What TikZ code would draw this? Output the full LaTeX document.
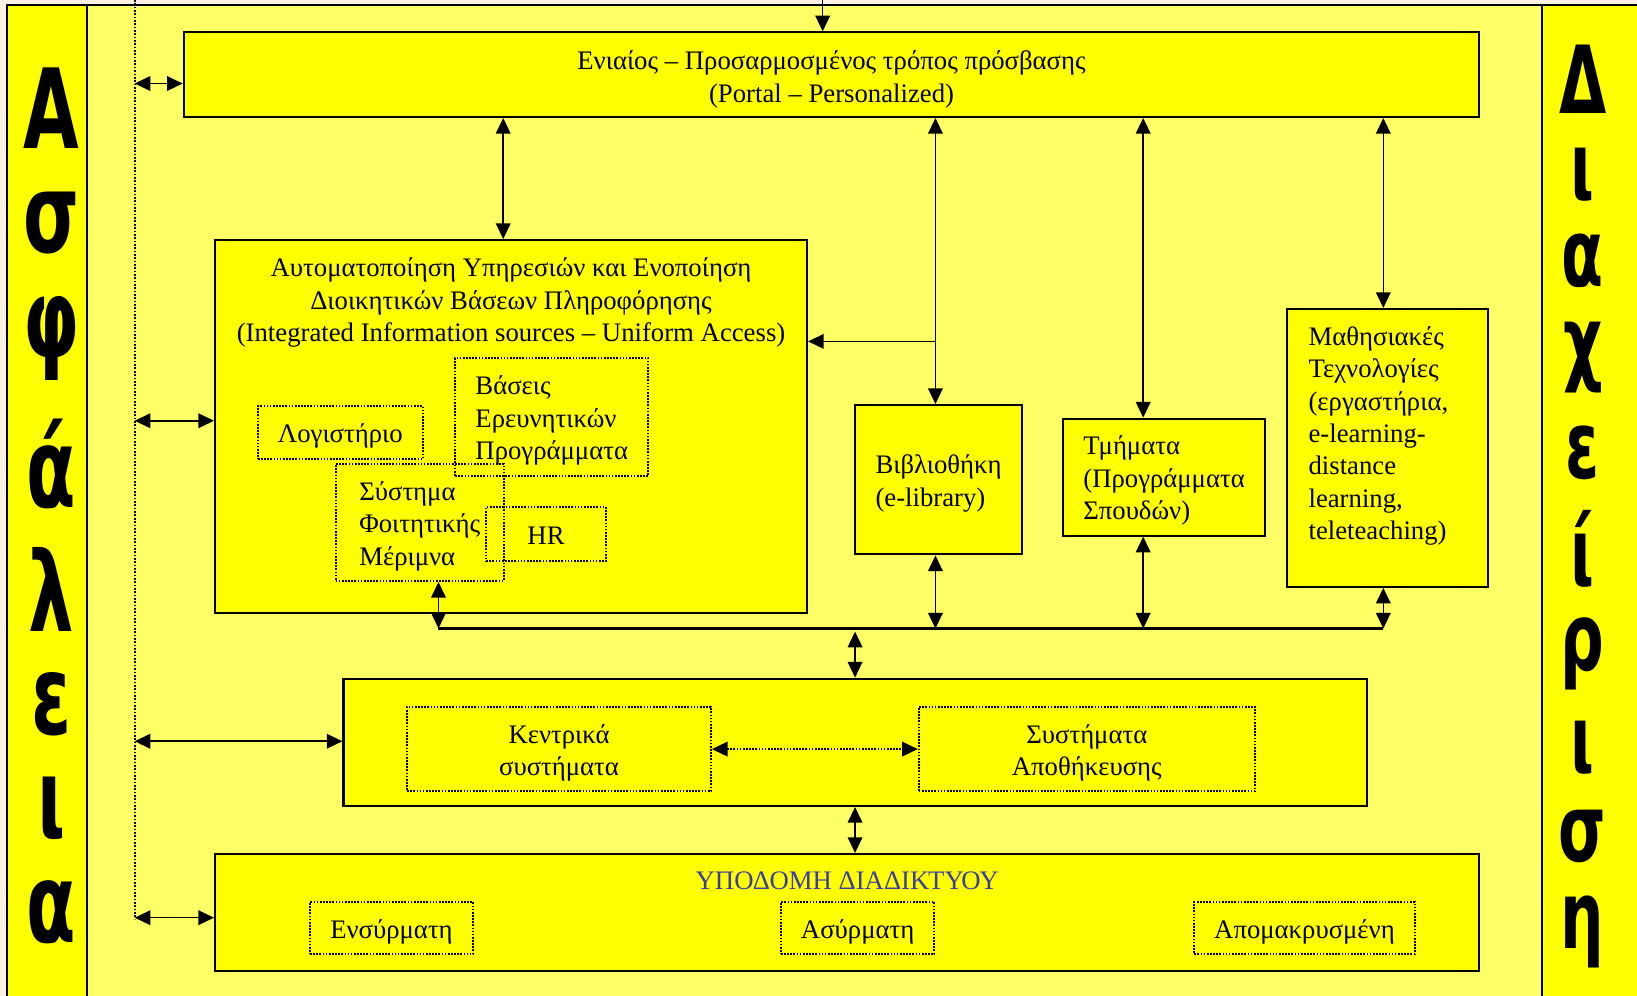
\documentclass[tikz,border=0pt]{standalone}
\usepackage{fontspec,graphicx}
\setmainfont{Liberation Serif}
\newfontfamily\bandfont{DejaVu Sans}
\usetikzlibrary{arrows.meta,positioning}

\definecolor{pagebeige}{RGB}{250,240,228}
\definecolor{paleyellow}{RGB}{255,255,102}
\definecolor{boxyellow}{RGB}{255,255,0}
\definecolor{titleblue}{RGB}{60,60,165}

\begin{document}
\begin{tikzpicture}[x=0.5pt,y=-0.5pt]
	% styles for the boxes, the dotted sub-systems and the links
	\tikzset{box/.style={draw,line width=1pt,fill=boxyellow,inner sep=0pt},
		dotbox/.style={draw,line width=0.9pt,dash pattern=on 0.8pt off 0.7pt,inner sep=0pt},
		% text sits a little low in its box, as in a word processor
		txt/.style={inner sep=0pt,yshift=-1.75pt,align=center,font=\fontsize{12.8}{15.5}\selectfont},
		link/.style={<->,line width=0.75pt},
		>={Triangle[length=7.5pt,width=7pt]},
		bandletter/.style={inner sep=0pt,font=\bandfont\bfseries\fontsize{53}{53}\selectfont},
		smallband/.style={bandletter,font=\bandfont\bfseries\fontsize{45}{45}\selectfont},
	}
	\useasboundingbox (0,0) rectangle (1568,954);
	% page, frame and the two side bands
	\fill[pagebeige] (0,0) rectangle (1568,954);
	\fill[paleyellow] (6.7,4.8) rectangle (1568,954);
	\fill[boxyellow] (6.7,4.8) rectangle (83,954);
	\fill[boxyellow] (1477,4.8) rectangle (1568,954);
	\draw[line width=1pt] (6.7,954) -- (6.7,4.8) -- (1568,4.8);
	\draw[line width=1pt] (83,4.8) -- (83,954);
	\draw[line width=1pt] (1477,4.8) -- (1477,954);
	\foreach \ch/\yy [count=\i] in {Α/104,σ/214,φ/324.5,ά/444.5,λ/564.5,ε/674.5,ι/774,α/874}
		\node[bandletter] (asf\i) at (49,\yy) {\scalebox{0.65}[1]{\ch}};
	\foreach \ch/\yy [count=\i] in {Δ/75.5,ι/167.5,α/249.5,χ/342.5,ε/433.5,ί/525.5,ρ/626,ι/716.5,σ/801,η/892.5}
		\node[smallband] (diax\i) at (1516,\yy) {\scalebox{0.65}[1]{\ch}};

	% the dotted security line on the left
	\coordinate (dtop) at (129,0);
	\coordinate (dbot) at (129,880);
	\draw[line width=0.8pt,dash pattern=on 0.8pt off 0.8pt] (dtop) -- (dbot);

	% access layer
	\node[box,minimum width=620.5pt,minimum height=40.5pt] (portal) at (796.5,71.5) {};
	\node[txt] (portaltxt) at (796.5,72.5) {Ενιαίος – Προσαρμοσμένος τρόπος πρόσβασης\\(Portal – Personalized)};
	\coordinate (topin) at (788,0);

	% services box with its sub-systems
	\node[box,minimum width=283.5pt,minimum height=178.5pt] (auto) at (489.5,408.5) {};
	\node[txt] (autotxt) at (489.5,286.5) {Αυτοματοποίηση Υπηρεσιών και Ενοποίηση\\Διοικητικών Βάσεων Πληροφόρησης\\(Integrated Information sources – Uniform Access)};
	\node[dotbox,minimum width=79pt,minimum height=25.5pt] (logist) at (326,414.5) {};
	\node[txt] (logisttxt) at (logist) {Λογιστήριο};
	\node[dotbox,minimum width=92.5pt,minimum height=56.5pt] (research) at (528.5,399.5) {};
	\node[txt,align=left] (researchtxt) at (research) {Βάσεις\\Ερευνητικών\\Προγράμματα};
	\node[dotbox,minimum width=57.3pt,minimum height=26pt] (hr) at (523,511.5) {};
	\node[txt] (hrtxt) at (523,509.5) {HR};
	\node[dotbox,minimum width=80.5pt,minimum height=56pt] (merimna) at (402,500.5) {};
	\node[txt,align=left] (merimnatxt) at (merimna) {Σύστημα\\Φοιτητικής\\Μέριμνα};

	% library, departments, learning
	\node[box,minimum width=80pt,minimum height=71.5pt] (library) at (899,459.5) {};
	\node[txt,align=left] (librarytxt) at (library) {Βιβλιοθήκη\\(e-library)};
	\node[box,minimum width=97pt,minimum height=56pt] (depts) at (1115,457) {};
	\node[txt,align=left] (deptstxt) at (depts) {Τμήματα\\(Προγράμματα\\Σπουδών)};
	\node[box,minimum width=96pt,minimum height=133pt] (learning) at (1329,429) {};
	\node[txt,align=left,anchor=west] (learningtxt) at (1253,414) {Μαθησιακές\\Τεχνολογίες\\(εργαστήρια,\\e-learning-\\distance\\learning,\\teleteaching)};

	% central systems
	\node[box,minimum width=490pt,minimum height=61pt] (central) at (819,711) {};
	\node[dotbox,minimum width=145.5pt,minimum height=40.5pt] (mainframes) at (535.5,717.5) {};
	\node[txt] (mainframestxt) at (mainframes) {Κεντρικά\\συστήματα};
	\node[dotbox,minimum width=161pt,minimum height=40.5pt] (storage) at (1041,717.5) {};
	\node[txt] (storagetxt) at (storage) {Συστήματα\\Αποθήκευσης};

	% network infrastructure
	\node[box,minimum width=605.5pt,minimum height=56pt] (infra) at (811.5,874) {};
	\node[txt,text=titleblue] (infratxt) at (811.5,840.5) {ΥΠΟΔΟΜΗ ΔΙΑΔΙΚΤΥΟΥ};
	\node[dotbox,minimum width=78pt,minimum height=25pt] (wired) at (375,889) {};
	\node[txt] (wiredtxt) at (wired) {Ενσύρματη};
	\node[dotbox,minimum width=73.5pt,minimum height=25pt] (wireless) at (821.5,889) {};
	\node[txt] (wirelesstxt) at (wireless) {Ασύρματη};
	\node[dotbox,minimum width=105.5pt,minimum height=25pt] (remote) at (1249.5,889) {};
	\node[txt] (remotetxt) at (remote) {Απομακρυσμένη};

	% links to the security line
	\coordinate (sec1) at (129,80);
	\coordinate (sec2) at (129,403);
	\coordinate (sec3) at (129,710);
	\coordinate (sec4) at (129,879);
	\draw[link] (sec1) -- (sec1 -| portal.west);
	\draw[link] (sec2) -- (sec2 -| auto.west);
	\draw[link] (sec3) -- (sec3 -| central.west);
	\draw[link] (sec4) -- (sec4 -| infra.west);

	% links from the portal
	\draw[->,line width=0.75pt] (topin) -- (topin |- portal.north);
	\draw[link] ([xshift=-3.75pt]auto.north |- portal.south) -- ([xshift=-3.75pt]auto.north);
	\draw[link] ([xshift=-1.5pt]library.north |- portal.south) -- ([xshift=-1.5pt]library.north);
	\coordinate (brch) at (896,327);
	\draw[->,line width=0.75pt] (brch) -- (brch -| auto.east);
	\draw[link] ([xshift=-10pt]depts.north |- portal.south) -- ([xshift=-10pt]depts.north);
	\draw[link] ([xshift=-2pt]learning.north |- portal.south) -- ([xshift=-2pt]learning.north);

	% the common bus
	\coordinate (busL) at (420,602);
	\coordinate (busR) at (1325,602);
	\draw[line width=1.2pt] (busL) -- (busR);
	\draw[link] ([xshift=9pt]merimna.south) -- (busL);
	\draw[link] ([xshift=-1.5pt]library.south) -- ([xshift=-1.5pt]library.south |- busL);
	\draw[link] ([xshift=-10pt]depts.south) -- ([xshift=-10pt]depts.south |- busL);
	\draw[link] ([xshift=-2pt]learning.south) -- (busR);
	\draw[link] ([yshift=-1.5pt]central.north |- busL) -- (central.north);
	\draw[link] (central.south) -- (central.south |- infra.north);
	\draw[link,dash pattern=on 0.8pt off 0.7pt] (mainframes.east) -- (storage.west);
\end{tikzpicture}
\end{document}
